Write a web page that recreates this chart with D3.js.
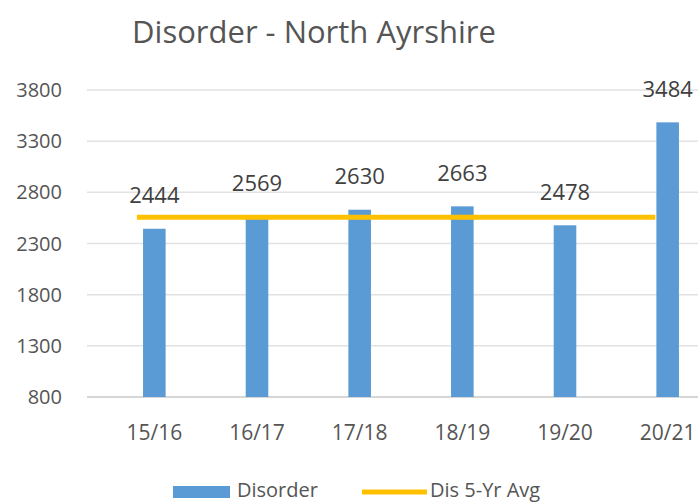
<!DOCTYPE html>
<html>
<head>
<meta charset="utf-8">
<script src="https://cdn.jsdelivr.net/npm/d3@7"></script>
<style>
  body { margin: 0; background: #fff; }
  svg text { font-family: "Open Sans", "Noto Sans", sans-serif; }
</style>
</head>
<body>
<svg id="chart" width="698" height="504"></svg>
<script>
const years = ["15/16", "16/17", "17/18", "18/19", "19/20", "20/21"];
const disorder = [2444, 2569, 2630, 2663, 2478, 3484];
const avgYears = ["15/16", "16/17", "17/18", "18/19", "19/20"];
const avgValue = 2557;
const yTicks = [800, 1300, 1800, 2300, 2800, 3300, 3800];

const chart = d3.select("#chart");
const margin = {left: 87, right: 0, top: 90, bottom: 107};
const chart_width = 698, chart_height = 504;

const x = d3.scaleBand()
  .domain(years)
  .range([103, 719])
  .paddingInner(0.78)
  .paddingOuter(0.39);

const y = d3.scaleLinear()
  .domain([800, 3800])
  .range([chart_height - margin.bottom, margin.top]);

// title
chart.append("text")
  .attr("x", 314)
  .attr("y", 32)
  .attr("dy", "0.35em")
  .attr("text-anchor", "middle")
  .style("font-size", "31px")
  .style("fill", "#555")
  .text("Disorder - North Ayrshire");

// gridlines
chart.append("g")
  .selectAll("line")
  .data(yTicks)
  .join("line")
  .attr("x1", margin.left)
  .attr("x2", chart_width)
  .attr("y1", d => y(d))
  .attr("y2", d => y(d))
  .style("stroke", d => d === 800 ? "#c8c8c8" : "#e2e2e2")
  .style("stroke-width", 1.5);

// y tick labels
chart.append("g")
  .selectAll("text")
  .data(yTicks)
  .join("text")
  .attr("x", 62)
  .attr("y", d => y(d))
  .attr("dy", "0.35em")
  .attr("text-anchor", "end")
  .style("font-size", "20px")
  .style("fill", "#555")
  .text(d => d);

// bars
chart.append("g")
  .selectAll("rect")
  .data(years)
  .join("rect")
  .attr("x", d => x(d))
  .attr("width", x.bandwidth())
  .attr("y", (d, i) => y(disorder[i]))
  .attr("height", (d, i) => y(800) - y(disorder[i]))
  .style("fill", "#5B9BD5");

// average line
const step = x.step();
chart.append("line")
  .attr("x1", x(avgYears[0]) + x.bandwidth() / 2 - 0.17 * step)
  .attr("x2", x(years[avgYears.length]) + x.bandwidth() / 2 - 0.12 * step)
  .attr("y1", y(avgValue))
  .attr("y2", y(avgValue))
  .style("stroke", "#FFC000")
  .style("stroke-width", 5);

// data labels
chart.append("g")
  .selectAll("text")
  .data(years)
  .join("text")
  .attr("x", d => x(d) + x.bandwidth() / 2)
  .attr("y", (d, i) => y(disorder[i]) - 33)
  .attr("dy", "0.35em")
  .attr("text-anchor", "middle")
  .style("font-size", "22px")
  .style("fill", "#404040")
  .text((d, i) => disorder[i]);

// x labels
chart.append("g")
  .selectAll("text")
  .data(years)
  .join("text")
  .attr("x", d => x(d) + x.bandwidth() / 2)
  .attr("y", 433)
  .attr("dy", "0.35em")
  .attr("text-anchor", "middle")
  .style("font-size", "21px")
  .style("fill", "#555")
  .text(d => d);

// legend
const legend = chart.append("g");
legend.append("rect")
  .attr("x", 173).attr("y", 486)
  .attr("width", 57).attr("height", 12)
  .style("fill", "#5B9BD5");
legend.append("text")
  .attr("x", 237).attr("y", 490)
  .attr("dy", "0.35em")
  .style("font-size", "20px")
  .style("fill", "#555")
  .text("Disorder");
legend.append("line")
  .attr("x1", 362).attr("x2", 427)
  .attr("y1", 492).attr("y2", 492)
  .style("stroke", "#FFC000")
  .style("stroke-width", 5);
legend.append("text")
  .attr("x", 430).attr("y", 490)
  .attr("dy", "0.35em")
  .style("font-size", "20px")
  .style("fill", "#555")
  .text("Dis 5-Yr Avg");
</script>
</body>
</html>
